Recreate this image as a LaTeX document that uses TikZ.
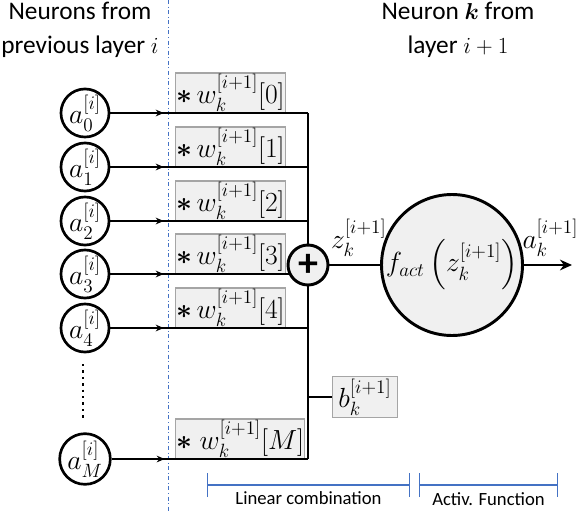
\documentclass[tikz,border=0pt]{standalone}
\usepackage{fontspec}
\setmainfont{Carlito}
\usepackage{amsmath,amssymb}
\usepackage{tikz}
\usetikzlibrary{arrows.meta,calc,decorations.markings,positioning}
\definecolor{boxgray}{RGB}{240,240,240}
\definecolor{framegray}{RGB}{165,165,165}
\definecolor{spanblue}{RGB}{68,114,196}
\newcommand{\wstar}{{\fontsize{22}{22}\selectfont$\boldsymbol{\ast}$}}

\begin{document}
\begin{tikzpicture}[x=0.75pt,y=-0.75pt,
  neuron/.style={circle,draw=black,line width=2pt,fill=white,minimum size=31pt,inner sep=0pt,
      font=\fontsize{21}{23}\selectfont},
  wire/.style={line width=2.2pt},
  inwire/.style={wire,postaction={decorate,decoration={markings,
      mark=at position 0.27 with {\arrow{Stealth[length=6pt,width=5pt]}}}}},
  wbox/.style={draw=framegray,fill=boxgray,line width=0.8pt,minimum height=27.5pt,
      inner xsep=0.5pt,inner ysep=1pt,anchor=south west,font=\fontsize{20}{22}\selectfont},
  sumnode/.style={circle,draw=black,line width=2.2pt,fill=boxgray,minimum size=30pt,inner sep=0pt},
  actnode/.style={circle,draw=black,line width=2.2pt,fill=boxgray,minimum size=97pt,inner sep=0pt,
      font=\fontsize{21}{23}\selectfont},
  span/.style={draw=spanblue,line width=1pt,{Bar[width=18pt]}-{Bar[width=18pt]}},
  header/.style={align=center,font=\fontsize{19}{25}\selectfont},
  spanlabel/.style={font=\fontsize{14}{16}\selectfont}]
\useasboundingbox (0,0) rectangle (580,513);

% headings
\node[header] (hleft) at (80,30) {Neurons from\\previous layer $i$};
\node[header] (hright) at (458,30) {Neuron $\boldsymbol{k}$ from\\layer $i+1$};

% separator
\coordinate (sepT) at (168,0);
\coordinate (sepB) at (168,513);
\draw[spanblue,line width=0.6pt,dash dot] (sepT) -- (sepB);

% input neurons
\node[neuron] (n0) at (85,113) {$a_0^{[i]}$};
\node[neuron] (n1) at (85,167) {$a_1^{[i]}$};
\node[neuron] (n2) at (85,221) {$a_2^{[i]}$};
\node[neuron] (n3) at (85,274) {$a_3^{[i]}$};
\node[neuron] (n4) at (85,328) {$a_4^{[i]}$};
\node[neuron] (nM) at (85,459) {$a_M^{[i]}$};
\coordinate (dotsT) at (83,364);
\coordinate (dotsB) at (83,420);
\draw[line width=1.8pt,dash pattern=on 1.8pt off 3pt] (dotsT) -- (dotsB);

% weights
\node[wbox,minimum width=82pt] (w0) at (175,113) {\wstar\,$w_k^{[i+1]}[0]$};
\node[wbox,minimum width=82pt] (w1) at (175,167) {\wstar\,$w_k^{[i+1]}[1]$};
\node[wbox,minimum width=82pt] (w2) at (175,221) {\wstar\,$w_k^{[i+1]}[2]$};
\node[wbox,minimum width=82pt] (w3) at (175,274) {\wstar\,$w_k^{[i+1]}[3]$};
\node[wbox,minimum width=82pt] (w4) at (175,328) {\wstar\,$w_k^{[i+1]}[4]$};
\node[wbox,minimum width=92pt] (wM) at (175,459) {\wstar\;$w_k^{[i+1]}[M]$};

% bias
\node[wbox,anchor=center,minimum width=49pt,minimum height=31pt] (bias) at (365,397) {$b_k^{[i+1]}$};

% summing bus
\coordinate (bus) at (308,113);
\coordinate (busB) at (308,459);
\foreach \n in {n0,n1,n2,n3,n4,nM}
  \draw[inwire] (\n) -- (\n -| bus);
\draw[wire] (bus) -- (busB);
\draw[wire] (bias.west -| bus) -- (bias);
\node[sumnode] (sum) at (308,265) {\fontsize{30}{30}\selectfont\bfseries +};

% activation
\node[actnode] (act) at (452,265) {$f_{act}\left(z_k^{[i+1]}\right)$};
\coordinate (out) at (572,265);
\draw[wire] (sum) -- (act) node[pos=0.58,above=2pt,font=\fontsize{21}{23}\selectfont] (zlab) {$z_k^{[i+1]}$};
\draw[wire,-{Stealth[length=9pt,width=8pt]}] (act) -- (out) node[pos=0.55,above=2pt,font=\fontsize{21}{23}\selectfont] (alab) {$a_k^{[i+1]}$};

% spans
\coordinate (lcL) at (207,485);
\coordinate (lcR) at (410,485);
\coordinate (afL) at (419,485);
\coordinate (afR) at (558,485);
\draw[span] (lcL) -- (lcR) node[midway,below=1pt,spanlabel] (lclab) {Linear combination};
\draw[span] (afL) -- (afR) node[midway,below=2pt,spanlabel] (aflab) {Activ. Function};
\end{tikzpicture}
\end{document}
